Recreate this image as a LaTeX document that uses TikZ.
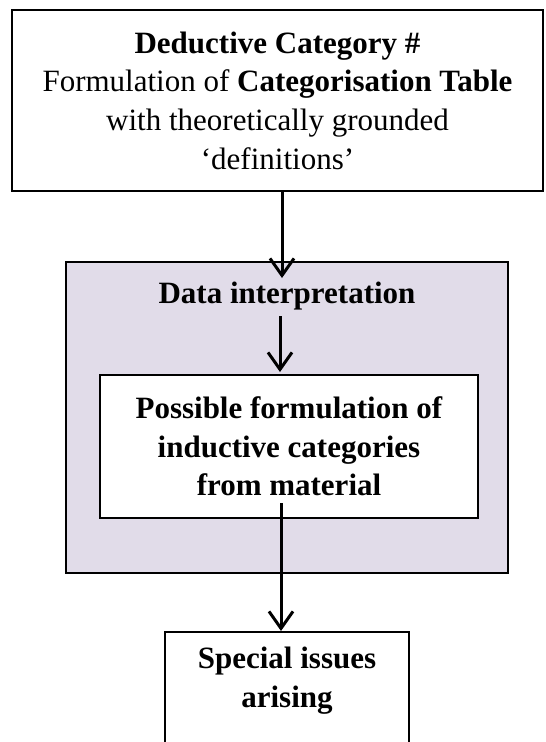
\documentclass[tikz,border=0pt]{standalone}
\usepackage{fontspec}
\setmainfont{Liberation Serif}
\usetikzlibrary{arrows.meta}
\definecolor{interpfill}{RGB}{225,220,233}
\newcommand{\boxfont}{\fontsize{31}{38.7}\selectfont}
\tikzset{
	box/.style={draw, line width=2pt, fill=white, align=center, font=\boxfont, inner sep=0pt},
	flow/.style={line width=3pt, -{Straight Barb[length=17pt,width=24pt]}}
}

\begin{document}
\begin{tikzpicture}[x=1pt,y=-1pt]
		\useasboundingbox (0,0) rectangle (546,742);
		\node[box, minimum width=531pt, minimum height=181pt] (deductive) at (277.5,100.5)
			{\textbf{Deductive Category \#}\\Formulation of \textbf{Categorisation Table}\\with theoretically grounded\\`definitions'};
		\node[box, fill=interpfill, minimum width=442pt, minimum height=311pt] (interp) at (287,417.5) {};
		\node[font=\boxfont\bfseries, inner sep=0pt] (interptitle) at (287,296) {Data interpretation};
		\node[box, minimum width=378pt, minimum height=143pt] (inductive) at (289,446.5)
			{\textbf{Possible formulation of}\\\textbf{inductive categories}\\\textbf{from material}};
		\node[box, minimum width=244pt, minimum height=140pt, anchor=north] (issuesbox) at (287,631) {};
		\node[font=\boxfont\bfseries, align=center, inner sep=0pt] (issues) at (287,681) {Special issues\\arising};
		\coordinate (tipA) at (282,278);
		\coordinate (tipB) at (280,372);
		\coordinate (startC) at (281,503);
		\draw[flow] (deductive.south -| tipA) -- (tipA);
		\draw[flow] (interptitle.south -| tipB) ++(0,6) -- (tipB);
		\draw[flow] (startC) -- (issuesbox.north -| startC);
	\end{tikzpicture}
\end{document}
